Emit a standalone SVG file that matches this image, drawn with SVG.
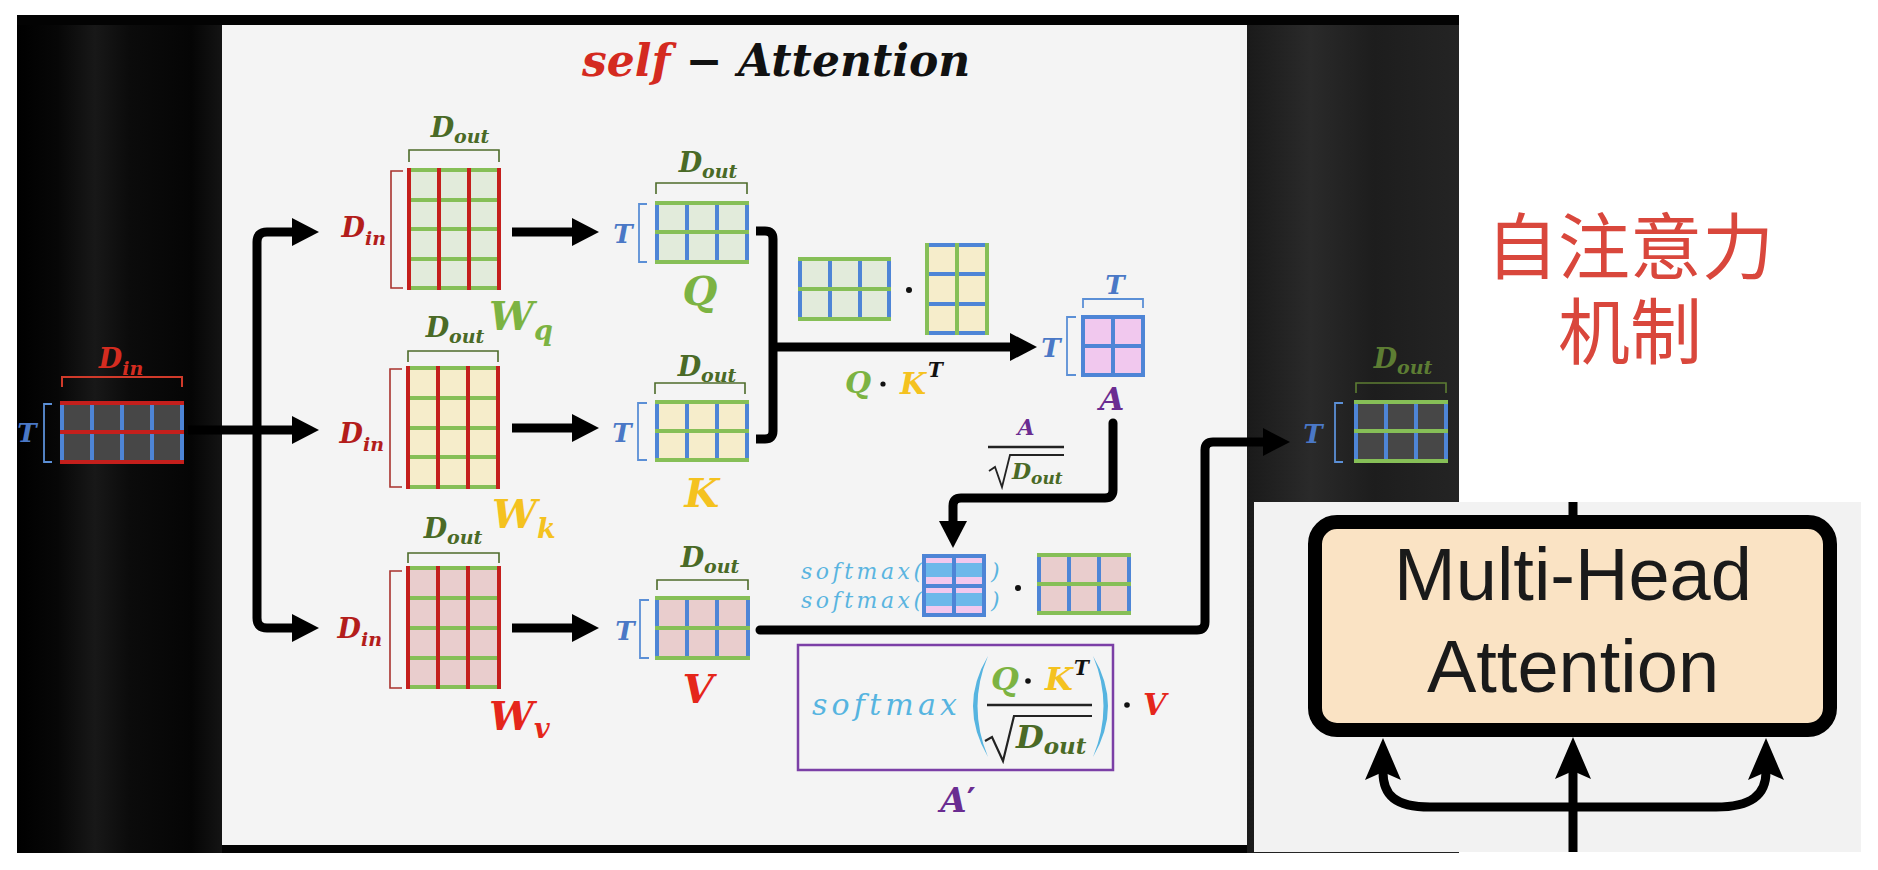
<svg xmlns="http://www.w3.org/2000/svg" width="1878" height="870" viewBox="0 0 1878 870">
<defs>
<style>
.m{font-family:"DejaVu Serif","Liberation Serif",serif;font-style:italic;font-weight:bold}
.mi{font-family:"DejaVu Serif","Liberation Serif",serif;font-style:italic}
.gl{stroke:#86bf57;stroke-width:4;fill:none;stroke-linecap:square}
.rl{stroke:#c41f1c;stroke-width:4;fill:none;stroke-linecap:square}
.bl{stroke:#4e85d6;stroke-width:4;fill:none;stroke-linecap:square}
.brg{stroke:#4d6b2a;stroke-width:1.6;fill:none}
.brr{stroke:#a8322d;stroke-width:1.6;fill:none}
.brb{stroke:#5b8fd6;stroke-width:1.8;fill:none}
.dg{fill:#4a6a26}
.dr{fill:#b31d1b}
.bt{fill:#4a78c6}
.con{stroke:#000;stroke-width:9;fill:none}
.fg{fill:#e2ebdb}.fy{fill:#f6edcb}.fp{fill:#e9cdcd}.fa{fill:#f1c8ee}.fd{fill:#474747}
.ink{fill:#111}
</style>
<marker id="ah" viewBox="0 0 27 28" refX="0" refY="14" markerWidth="27" markerHeight="28" markerUnits="userSpaceOnUse" orient="auto"><path d="M0,0 L27,14 L0,28 Z" fill="#000"/></marker>
<marker id="st" viewBox="0 0 42 36" refX="8" refY="18" markerWidth="42" markerHeight="36" markerUnits="userSpaceOnUse" orient="auto"><path d="M0,0 L42,18 L0,36 L8,18 Z" fill="#000"/></marker>
<linearGradient id="lgL" x1="0" x2="1" y1="0" y2="0">
<stop offset="0" stop-color="#000"/><stop offset="0.2" stop-color="#070707"/><stop offset="0.38" stop-color="#181818"/><stop offset="0.55" stop-color="#0b0b0b"/><stop offset="0.85" stop-color="#050505"/><stop offset="1" stop-color="#141414"/>
</linearGradient>
<linearGradient id="lgR" x1="0" x2="1" y1="0" y2="0">
<stop offset="0" stop-color="#1a1a1a"/><stop offset="0.3" stop-color="#2a2a2a"/><stop offset="0.6" stop-color="#1d1d1d"/><stop offset="1" stop-color="#242424"/>
</linearGradient>
</defs>

<g id="background">
<rect width="1878" height="870" fill="#fff"/>
<rect x="17" y="15" width="1442" height="838" fill="#030303"/>
<rect x="17" y="25" width="205" height="828" fill="url(#lgL)"/>
<rect x="1247" y="25" width="212" height="828" fill="url(#lgR)"/>
<rect x="222" y="25" width="1025" height="820" fill="#f4f4f4"/>
</g>

<g id="title">
<text class="m" x="582" y="76" font-size="44"><tspan fill="#d42a20">self</tspan><tspan fill="#111"> − Attention</tspan></text>
</g>

<g id="input-X">
<rect class="fd" x="62" y="403" width="120" height="59"/>
<path class="bl" d="M62,403V462M92,403V462M122,403V462M152,403V462M182,403V462"/>
<path class="rl" d="M62,403H182M62,432H182M62,462H182"/>
<path class="brb" d="M52,404H44V462H52"/>
<path d="M62,387V377H182V387" stroke="#d03a2a" stroke-width="2" fill="none"/>
<text class="m" x="121" y="368" font-size="27" text-anchor="middle" fill="#d42c20">D<tspan font-size="19" dy="7">in</tspan></text>
<text class="m bt" x="27" y="442" font-size="26" text-anchor="middle">T</text>
</g>

<g id="Wq">
<rect class="fg" x="409" y="170" width="90" height="118"/>
<path class="gl" d="M409,170H499M409,200H499M409,229H499M409,259H499M409,288H499"/>
<path class="rl" d="M409,170V288M439,170V288M469,170V288M499,170V288"/>
<path class="brr" d="M403,171H391V288H403"/>
<path class="brg" d="M409,162V150H499V162"/>
<text class="m dg" x="460" y="137" font-size="27" text-anchor="middle">D<tspan font-size="19" dy="6">out</tspan></text>
<text class="m dr" x="386" y="237" font-size="27" text-anchor="end">D<tspan font-size="19" dy="8">in</tspan></text>
<text class="m" x="489" y="330" font-size="40" fill="#7cb342">W<tspan font-size="27" dy="10">q</tspan></text>
</g>

<g id="Wk">
<rect class="fy" x="408" y="368" width="90" height="119"/>
<path class="gl" d="M408,368H498M408,398H498M408,428H498M408,457H498M408,487H498"/>
<path class="rl" d="M408,368V487M438,368V487M468,368V487M498,368V487"/>
<path class="brr" d="M402,369H390V487H402"/>
<path class="brg" d="M408,362V351H498V362"/>
<text class="m dg" x="455" y="337" font-size="27" text-anchor="middle">D<tspan font-size="19" dy="6">out</tspan></text>
<text class="m dr" x="384" y="443" font-size="27" text-anchor="end">D<tspan font-size="19" dy="8">in</tspan></text>
<text class="m" x="492" y="528" font-size="40" fill="#f4c21f">W<tspan font-size="27" dy="10">k</tspan></text>
</g>

<g id="Wv">
<rect class="fp" x="408" y="568" width="91" height="119"/>
<path class="gl" d="M408,568H499M408,598H499M408,628H499M408,658H499M408,687H499"/>
<path class="rl" d="M408,568V687M438,568V687M468,568V687M499,568V687"/>
<path class="brr" d="M402,571H390V688H402"/>
<path class="brg" d="M408,563V553H499V563"/>
<text class="m dg" x="453" y="538" font-size="27" text-anchor="middle">D<tspan font-size="19" dy="6">out</tspan></text>
<text class="m dr" x="382" y="638" font-size="27" text-anchor="end">D<tspan font-size="19" dy="8">in</tspan></text>
<text class="m" x="489" y="730" font-size="40" fill="#e5261b">W<tspan font-size="27" dy="8">v</tspan></text>
</g>

<g id="Q">
<rect class="fg" x="657" y="203" width="90" height="59"/>
<path class="bl" d="M657,203V262M687,203V262M717,203V262M747,203V262"/>
<path class="gl" d="M657,203H747M657,232H747M657,262H747"/>
<path class="brb" d="M647,204H639V262H647"/>
<path class="brg" d="M656,194V183H747V194"/>
<text class="m dg" x="708" y="172" font-size="27" text-anchor="middle">D<tspan font-size="19" dy="6">out</tspan></text>
<text class="m bt" x="623" y="243" font-size="26" text-anchor="middle">T</text>
<text class="m" x="700" y="305" font-size="40" text-anchor="middle" fill="#7cb342">Q</text>
</g>

<g id="K">
<rect class="fy" x="657" y="402" width="90" height="58"/>
<path class="bl" d="M657,402V460M687,402V460M717,402V460M747,402V460"/>
<path class="gl" d="M657,402H747M657,431H747M657,460H747"/>
<path class="brb" d="M647,403H638V460H647"/>
<path class="brg" d="M655,394V383H745V394"/>
<text class="m dg" x="707" y="376" font-size="27" text-anchor="middle">D<tspan font-size="19" dy="6">out</tspan></text>
<text class="m bt" x="622" y="442" font-size="26" text-anchor="middle">T</text>
<text class="m" x="702" y="507" font-size="40" text-anchor="middle" fill="#f4c21f">K</text>
</g>

<g id="V">
<rect class="fp" x="657" y="598" width="91" height="60"/>
<path class="bl" d="M657,598V658M687,598V658M717,598V658M748,598V658"/>
<path class="gl" d="M657,598H748M657,628H748M657,658H748"/>
<path class="brb" d="M649,600H640V658H649"/>
<path class="brg" d="M657,590V580H748V590"/>
<text class="m dg" x="710" y="567" font-size="27" text-anchor="middle">D<tspan font-size="19" dy="6">out</tspan></text>
<text class="m bt" x="625" y="640" font-size="26" text-anchor="middle">T</text>
<text class="m" x="698" y="703" font-size="40" text-anchor="middle" fill="#e5261b">V</text>
</g>

<g id="QKT">
<rect class="fg" x="800" y="259" width="89" height="60"/>
<path class="bl" d="M800,259V319M830,259V319M860,259V319M889,259V319"/>
<path class="gl" d="M800,259H889M800,289H889M800,319H889"/>
<circle class="ink" cx="909" cy="290" r="3"/>
<rect class="fy" x="927" y="245" width="60" height="88"/>
<path class="bl" d="M927,245H987M927,274H987M927,304H987M927,333H987"/>
<path class="gl" d="M927,245V333M957,245V333M987,245V333"/>
<text class="m" x="845" y="393" font-size="30" fill="#7cb342">Q</text>
<circle class="ink" cx="883" cy="384" r="2.6"/>
<text class="m" x="900" y="394" font-size="30" fill="#f4c21f">K</text>
<text class="m ink" x="928" y="377" font-size="20">T</text>
</g>

<g id="A">
<rect class="fa" x="1083" y="317" width="60" height="58"/>
<path class="bl" d="M1083,317V375M1113,317V375M1143,317V375M1083,317H1143M1083,346H1143M1083,375H1143"/>
<path class="brb" d="M1076,317H1067V375H1076"/>
<path class="brb" d="M1083,308V299H1143V308"/>
<text class="m bt" x="1115" y="294" font-size="26" text-anchor="middle">T</text>
<text class="m bt" x="1051" y="357" font-size="26" text-anchor="middle">T</text>
<text class="m" x="1112" y="410" font-size="32" text-anchor="middle" fill="#6a2c91">A</text>
</g>

<g id="scale">
<text class="m" x="1026" y="435" font-size="22" text-anchor="middle" fill="#6a2c91">A</text>
<path d="M988,447H1064" stroke="#222" stroke-width="2.5"/>
<path d="M989,471 L995,467 L1002,487 L1010,455 H1064" stroke="#222" stroke-width="1.8" fill="none"/>
<text class="m dg" x="1012" y="479" font-size="22">D<tspan font-size="17" dy="5">out</tspan></text>
</g>

<g id="softmax">
<text class="mi" x="801" y="579" font-size="22" fill="#5ab4e0" textLength="121" lengthAdjust="spacing">softmax(</text>
<text class="mi" x="801" y="608" font-size="22" fill="#5ab4e0" textLength="121" lengthAdjust="spacing">softmax(</text>
<rect class="fa" x="924" y="556" width="60" height="59"/>
<rect x="924" y="563" width="60" height="14" fill="#6cb8ea"/>
<rect x="924" y="593" width="60" height="13" fill="#6cb8ea"/>
<path class="bl" d="M924,556V615M954,556V615M984,556V615M924,556H984M924,586H984M924,615H984"/>
<text class="mi" x="991" y="579" font-size="22" fill="#5ab4e0">)</text>
<text class="mi" x="991" y="608" font-size="22" fill="#5ab4e0">)</text>
<circle class="ink" cx="1018" cy="588" r="3"/>
<rect class="fp" x="1039" y="555" width="90" height="58"/>
<path class="bl" d="M1039,555V613M1069,555V613M1099,555V613M1129,555V613"/>
<path class="gl" d="M1039,555H1129M1039,584H1129M1039,613H1129"/>
</g>

<g id="formula">
<rect x="798" y="645" width="315" height="125" fill="none" stroke="#7b3fa6" stroke-width="2.5"/>
<text class="mi" x="812" y="715" font-size="30" fill="#56b4e0" textLength="145" lengthAdjust="spacing">softmax</text>
<path d="M988,656 Q958,706 988,757 Q967,706 988,656 Z" fill="#56b4e0"/>
<text class="m" x="991" y="690" font-size="32" fill="#7cb342">Q</text>
<circle class="ink" cx="1028" cy="681" r="2.8"/>
<text class="m" x="1045" y="690" font-size="32" fill="#f4c21f">K</text>
<text class="m ink" x="1074" y="675" font-size="20">T</text>
<path d="M987,705H1092" stroke="#222" stroke-width="2.5"/>
<path d="M985,741 L992,737 L1003,761 L1014,716 H1092" stroke="#222" stroke-width="2.2" fill="none"/>
<text class="m dg" x="1016" y="748" font-size="32">D<tspan font-size="23" dy="6">out</tspan></text>
<path d="M1093,656 Q1123,706 1093,757 Q1114,706 1093,656 Z" fill="#56b4e0"/>
<circle class="ink" cx="1127" cy="705" r="2.8"/>
<text class="m" x="1143" y="715" font-size="30" fill="#e5261b">V</text>
<text class="m" x="958" y="812" font-size="34" text-anchor="middle" fill="#6a2c91">A<tspan font-family="'DejaVu Sans',sans-serif" font-style="normal">′</tspan></text>
</g>

<g id="output">
<rect class="fd" x="1356" y="402" width="90" height="59"/>
<path class="bl" d="M1356,402V461M1386,402V461M1416,402V461M1446,402V461"/>
<path class="gl" d="M1356,402H1446M1356,431H1446M1356,461H1446"/>
<path class="brb" d="M1343,403H1335V462H1343"/>
<path d="M1356,393V383H1446V393" stroke="#5d7d33" stroke-width="1.6" fill="none"/>
<text class="m" x="1403" y="368" font-size="27" text-anchor="middle" fill="#5d7d33">D<tspan font-size="19" dy="6">out</tspan></text>
<text class="m bt" x="1313" y="443" font-size="26" text-anchor="middle">T</text>
</g>

<g id="chinese-title">
<text x="1630" y="273" font-family="'Noto Sans CJK SC','Noto Sans CJK JP',sans-serif" font-size="72" text-anchor="middle" fill="#d9473c">自注意力</text>
<text x="1630" y="358" font-family="'Noto Sans CJK SC','Noto Sans CJK JP',sans-serif" font-size="72" text-anchor="middle" fill="#d9473c">机制</text>
</g>

<g id="multihead">
<rect x="1254" y="502" width="607" height="350" fill="#f2f2f2"/>
<rect x="1315" y="522" width="515" height="208" rx="22" fill="#fae3c4" stroke="#000" stroke-width="14"/>
<text x="1573" y="600" font-family="'Liberation Sans',Arial,sans-serif" font-size="74" text-anchor="middle" fill="#1a1a1a">Multi-Head</text>
<text x="1573" y="692" font-family="'Liberation Sans',Arial,sans-serif" font-size="74" text-anchor="middle" fill="#1a1a1a">Attention</text>
</g>

<g id="connectors">
<path class="con" d="M188,430H292" marker-end="url(#ah)"/>
<path class="con" d="M257,430V242Q257,232 267,232H292" marker-end="url(#ah)"/>
<path class="con" d="M257,430V618Q257,628 267,628H292" marker-end="url(#ah)"/>
<path class="con" d="M512,232H572" marker-end="url(#ah)"/>
<path class="con" d="M512,428H572" marker-end="url(#ah)"/>
<path class="con" d="M512,628H572" marker-end="url(#ah)"/>
<path class="con" d="M756,231H765Q773,231 773,239V431Q773,439 765,439H756"/>
<path class="con" d="M773,347H1010" marker-end="url(#ah)"/>
<path class="con" stroke-linecap="round" d="M1113,423V490Q1113,498 1105,498H961Q953,498 953,506V521" marker-end="url(#ah)"/>
<path class="con" stroke-linecap="round" d="M760,630H1197Q1205,630 1205,622V450Q1205,442 1213,442H1263" marker-end="url(#ah)"/>
<path class="con" d="M1573,502V516"/>
<path class="con" d="M1573,852V771" marker-end="url(#st)"/>
<path class="con" d="M1573,807H1430C1395,807 1383,795 1383,772" marker-end="url(#st)"/>
<path class="con" d="M1573,807H1716C1751,807 1766,795 1766,772" marker-end="url(#st)"/>
</g>
</svg>
